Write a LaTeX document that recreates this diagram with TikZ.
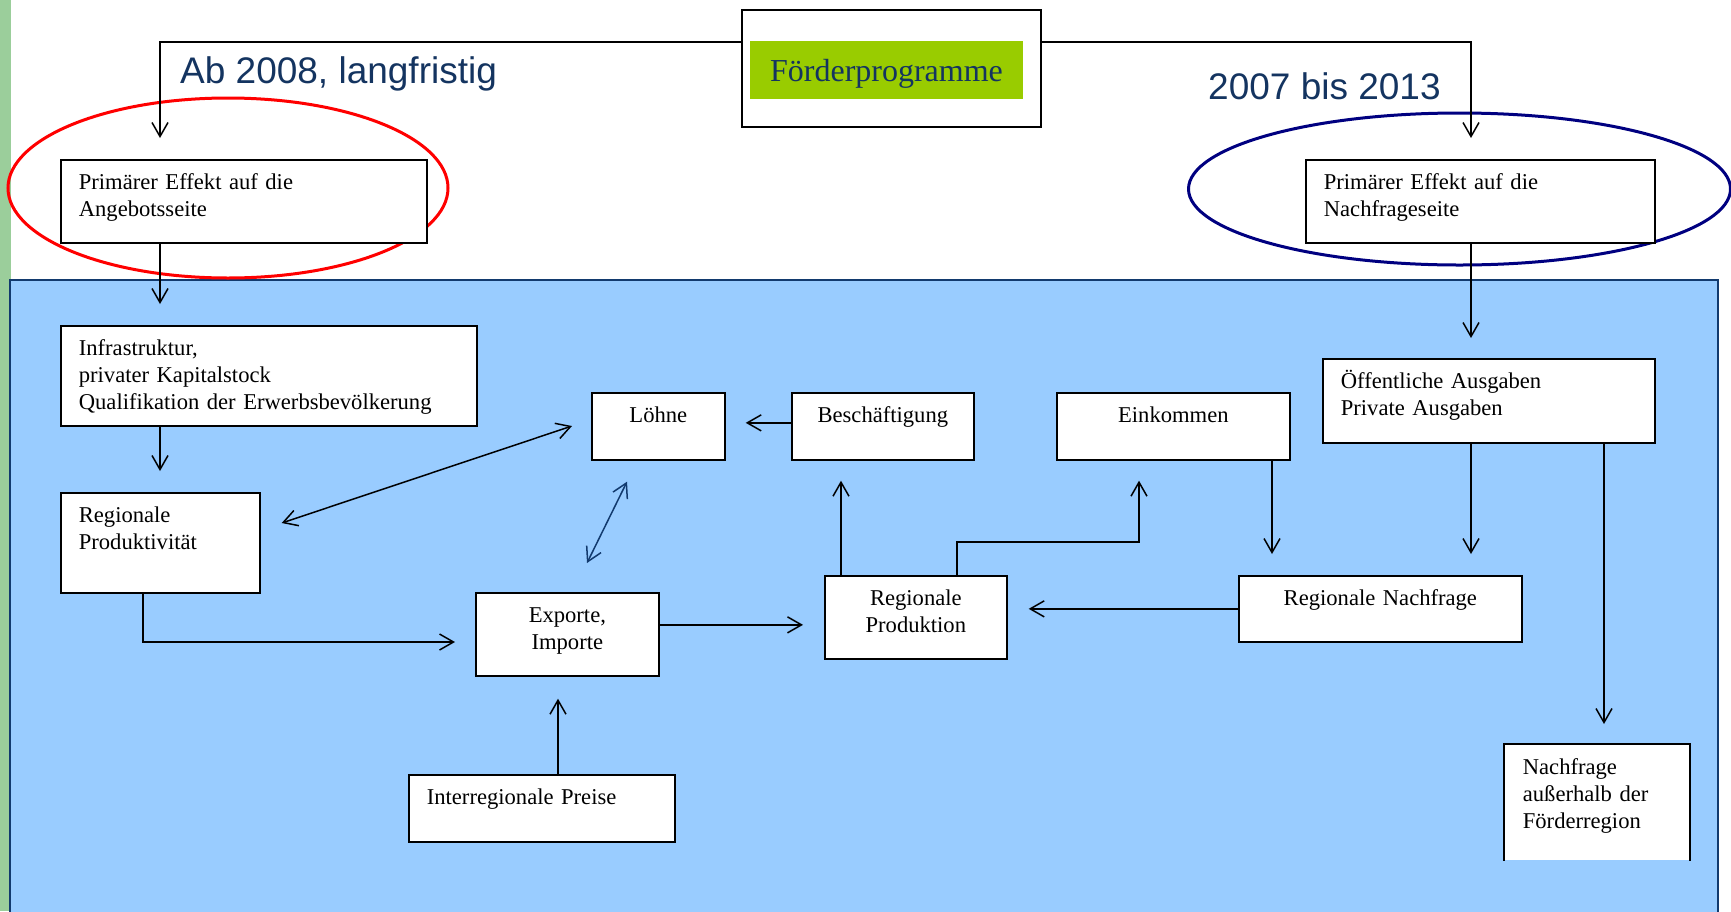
\documentclass[tikz,border=0pt]{standalone}
\usepackage{fontspec}
\setmainfont{Liberation Serif}
\newfontfamily\titelfont{Liberation Sans}
\usetikzlibrary{arrows.meta}
\definecolor{hellblau}{RGB}{153,204,255}
\definecolor{rahmenblau}{RGB}{18,58,110}
\definecolor{textblau}{RGB}{20,52,96}
\definecolor{gruenbalken}{RGB}{155,206,155}
\definecolor{foerdergruen}{RGB}{153,204,0}
\definecolor{ovalblau}{RGB}{0,0,128}
\newcommand{\boxfont}{\fontsize{22.6}{27}\selectfont}
\tikzset{
	kasten/.style={draw, fill=white, line width=1.7pt, anchor=north west, inner xsep=18pt, inner ysep=9pt, text height=21pt, align=left, font=\boxfont},
	pfeil/.style={line width=1.5pt, -{Straight Barb[length=14pt,width=16pt]}},
	doppelpfeil/.style={line width=1.5pt, {Straight Barb[length=14pt,width=16pt]}-{Straight Barb[length=14pt,width=16pt]}},
	titel/.style={anchor=base west, inner sep=0pt, text=textblau, font=\titelfont\fontsize{37}{40}\selectfont},
}
\begin{document}
\begin{tikzpicture}[x=1pt,y=-1pt]
	\useasboundingbox (0,0) rectangle (1731,911);
	\fill[gruenbalken] (0,0) rectangle (11,911);
	\draw[rahmenblau, fill=hellblau, line width=2.5pt] (10,940) -- (10,280) -- (1718,280) -- (1718,940);
	% Ovale hinter den Kaesten
	\draw[red, line width=3pt] (228,188) ellipse [x radius=220, y radius=90];
	\draw[ovalblau, line width=3pt] (1459.5,189) ellipse [x radius=271, y radius=76];
	% Foerderprogramme
	\node[draw, fill=white, line width=1.8pt, minimum width=299pt, minimum height=117pt, anchor=north west] (foerder) at (741,9) {};
	\node[fill=foerdergruen, minimum width=273pt, minimum height=58pt, text height=25pt, text depth=3pt, text=textblau, font=\fontsize{32}{36}\selectfont] (programm) at (886.5,70) {Förderprogramme};
	\node[titel] (ab2008) at (180,83) {Ab 2008, langfristig};
	\node[titel] (bis2013) at (1208,99) {2007 bis 2013};
	% Kaesten
	\node[kasten, text width=330pt, text depth=44pt] (angebot) at (60,159) {Primärer Effekt auf die\\Angebotsseite};
	\node[kasten, text width=313pt, text depth=44pt] (nachfrage) at (1305,159) {Primärer Effekt auf die\\Nachfrageseite};
	\node[kasten, text width=380pt, text depth=61pt] (infra) at (60,325) {Infrastruktur,\\privater Kapitalstock\\Qualifikation der Erwerbsbevölkerung};
	\node[kasten, text width=163pt, text depth=61pt] (produktiv) at (60,492) {Regionale\\Produktivität};
	\node[kasten, align=center, text width=97pt, text depth=28pt] (loehne) at (591,392) {Löhne};
	\node[kasten, align=center, text width=146pt, text depth=28pt] (besch) at (791,392) {Beschäftigung};
	\node[kasten, align=center, text width=197pt, text depth=28pt] (einkommen) at (1056,392) {Einkommen};
	\node[kasten, text width=296pt, text depth=45pt] (ausgaben) at (1322,358) {Öffentliche Ausgaben\\Private Ausgaben};
	\node[kasten, align=center, text width=147pt, text depth=44pt] (exporte) at (475,592) {Exporte,\\Importe};
	\node[kasten, align=center, text width=146pt, text depth=44pt] (produktion) at (824,575) {Regionale\\Produktion};
	\node[kasten, align=center, text width=247pt, text depth=27pt] (regnachfrage) at (1238,575) {Regionale Nachfrage};
	\node[kasten, text width=230pt, text depth=28pt] (preise) at (408,774) {Interregionale Preise};
	\node[kasten, draw=none, text width=148pt, text depth=76pt] (extern) at (1504,744) {Nachfrage\\außerhalb der\\Förderregion};
	\draw[line width=1.7pt] (extern.south west) -- (extern.north west) -- (extern.north east) -- (extern.south east);%unten offen
	% Pfeile
	\draw[pfeil, shorten >=21pt] ([yshift=-33pt]foerder.north west) -| ([xshift=100pt]angebot.north west);
	\draw[pfeil, shorten >=21pt] ([yshift=-33pt]foerder.north east) -| ([xshift=166pt]nachfrage.north west);
	\draw[pfeil, shorten >=21pt] ([xshift=100pt]angebot.south west) -- ([xshift=100pt]infra.north west);
	\draw[pfeil, shorten >=20pt] ([xshift=166pt]nachfrage.south west) -- ([xshift=149pt]ausgaben.north west);
	\draw[pfeil, shorten >=21pt] ([xshift=100pt]infra.south west) -- ([xshift=100pt]produktiv.north west);
	\draw[pfeil, shorten >=20pt] ([xshift=83pt]produktiv.south west) |- ([yshift=-50pt]exporte.north west);
	\draw[doppelpfeil] ([shift={(21,31)}]produktiv.north east) -- ([shift={(-19,34)}]loehne.north west);
	\draw[doppelpfeil, rahmenblau] ([shift={(36,21)}]loehne.south west) -- ([shift={(112,-29)}]exporte.north west);
	\draw[pfeil, shorten >=20pt] ([yshift=3.5pt]besch.west) -- ([yshift=3.5pt]loehne.east);
	\draw[pfeil, shorten >=20pt] ([xshift=17pt]produktion.north west) -- ([xshift=50pt]besch.south west);
	\draw[pfeil, shorten >=20pt] ([xshift=133pt]produktion.north west) -- ++(0,-33) -| ([xshift=83pt]einkommen.south west);
	\draw[pfeil, shorten >=21pt] ([xshift=216pt]einkommen.south west) -- ([xshift=34pt]regnachfrage.north west);
	\draw[pfeil, shorten >=21pt] ([xshift=149pt]ausgaben.south west) -- ([xshift=233pt]regnachfrage.north west);
	\draw[pfeil, shorten >=20pt] ([xshift=282pt]ausgaben.south west) -- ([xshift=100pt]extern.north west);
	\draw[pfeil, shorten >=21pt] (regnachfrage.west) -- ([yshift=8.5pt]produktion.east);
	\draw[pfeil, shorten >=21pt] ([yshift=9.5pt]exporte.east) -- ([yshift=-7.5pt]produktion.west);
	\draw[pfeil, shorten >=22pt] ([xshift=150pt]preise.north west) -- ([xshift=83pt]exporte.south west);
\end{tikzpicture}
\end{document}
